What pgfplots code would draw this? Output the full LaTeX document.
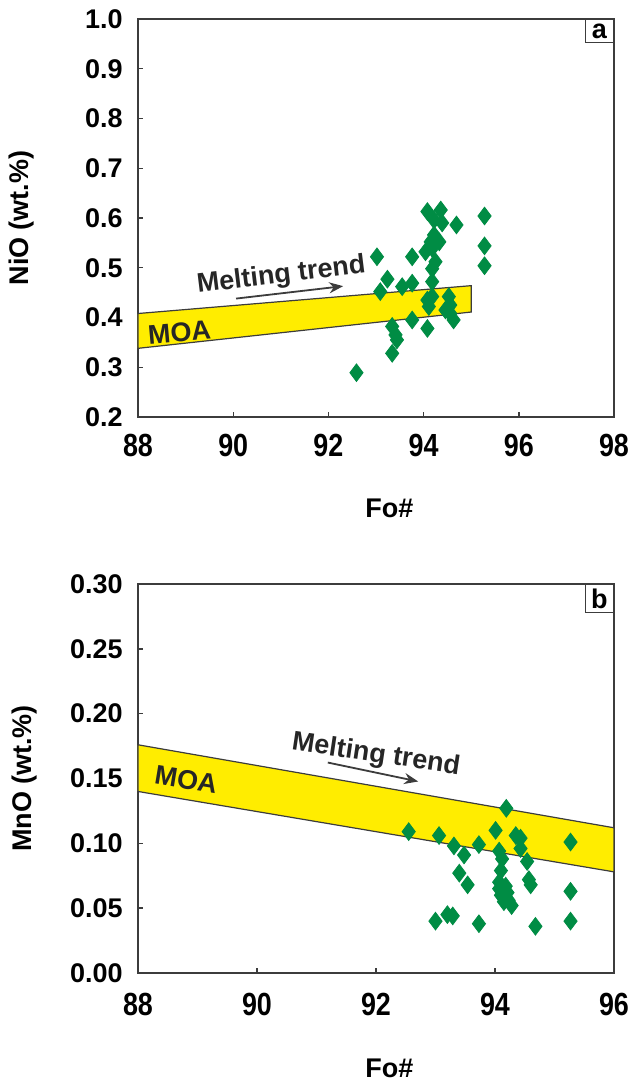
\documentclass[border=0pt]{standalone}
\usepackage{fontspec}
\setmainfont{Liberation Sans}
\usepackage{graphicx}
\usepackage{pgfplots}
\pgfplotsset{compat=1.18}
\usetikzlibrary{arrows.meta}
\definecolor{moa}{RGB}{255,237,0}
\definecolor{olv}{RGB}{0,140,68}
\definecolor{axc}{RGB}{60,60,60}
\pgfplotsset{
  myaxis/.style={
    anchor=south west, scale only axis, width=238pt,
    font=\fontsize{13.5}{16}\selectfont\bfseries,
    /pgf/number format/assume math mode=true,
    tick pos=left, tick align=inside, major tick length=2.5pt,
    axis line style={line width=0.7pt, draw=axc},
    tick style={line width=0.7pt, draw=axc},
    yticklabel style={inner sep=0pt, xshift=-7.5pt, /pgf/number format/.cd, fixed, fixed zerofill},
    xticklabel style={inner sep=0pt, font=\fontsize{16}{18}\selectfont\bfseries},
    xticklabel={\scalebox{0.84}[1]{\pgfmathprintnumber{\tick}}},
    clip mode=individual,
  },
  diam/.style={only marks, mark=diamond*, mark size=4.4pt, mark options={draw=olv, fill=olv}},
}
\begin{document}
\begin{tikzpicture}[x=1pt,y=1pt]
\useasboundingbox (0,0) rectangle (316.5,543.5);
% ---------------- panel a
\begin{axis}[myaxis, at={(69pt,335pt)}, height=199pt,
  xmin=88, xmax=98, ymin=0.2, ymax=1.0,
  xtick={88,90,92,94,96,98},
  ytick={0.2,0.3,0.4,0.5,0.6,0.7,0.8,0.9,1.0},
  yticklabel style={/pgf/number format/precision=1},
  xticklabel style={yshift=-8.5pt},
  xlabel={Fo\#}, xlabel style={at={(axis description cs:0.528,-0.2286)}, anchor=center},
  ylabel={NiO (wt.\%)}, ylabel style={at={(axis description cs:-0.2437,0.5)}, anchor=center},
]
\addplot[fill=moa, draw=axc, line width=0.6pt] coordinates {(88,0.338) (95,0.411) (95,0.464) (88,0.408)} -- cycle;
\draw[-{Stealth[length=7pt,width=5.5pt]}, line width=0.9pt, axc] (axis cs:90.06,0.438) -- (axis cs:92.31,0.463);
\node[rotate=7, text=black!85] at (axis cs:91.01,0.484) {Melting trend};
\node[rotate=5, text=black!85] at (axis cs:88.87,0.370) {MOA};
\addplot[diam] coordinates {
(92.59,0.289) (93.02,0.522) (93.24,0.477) (93.09,0.452) (93.34,0.382)
(93.41,0.365) (93.44,0.355) (93.34,0.328) (93.55,0.462) (93.76,0.469)
(93.76,0.522) (93.76,0.395) (94.08,0.378) (94.08,0.613) (94.36,0.616)
(94.39,0.590) (94.22,0.596) (94.69,0.586) (94.22,0.566) (94.15,0.552)
(94.33,0.552) (94.04,0.532) (94.18,0.539) (94.25,0.512) (94.18,0.498)
(94.18,0.472) (94.08,0.435) (94.18,0.442) (94.11,0.422) (94.53,0.442)
(94.56,0.425) (94.46,0.415) (94.56,0.408) (94.63,0.395) (95.28,0.604)
(95.28,0.544) (95.28,0.504)
};
\node[draw=axc, line width=0.7pt, anchor=north east, minimum width=14pt, minimum height=11.5pt, inner sep=1pt] at (rel axis cs:1,1) {a};
\end{axis}
% ---------------- panel b
\begin{axis}[myaxis, at={(69pt,57pt)}, height=194.5pt,
  xmin=88, xmax=96, ymin=0, ymax=0.30,
  xtick={88,90,92,94,96},
  ytick={0,0.05,0.10,0.15,0.20,0.25,0.30},
  yticklabel style={/pgf/number format/precision=2},
  xticklabel style={yshift=-10pt},
  xlabel={Fo\#}, xlabel style={at={(axis description cs:0.528,-0.2442)}, anchor=center},
  ylabel={MnO (wt.\%)}, ylabel style={at={(axis description cs:-0.2374,0.5)}, anchor=center},
]
\addplot[fill=moa, draw=axc, line width=0.6pt] coordinates {(88,0.140) (96,0.078) (96,0.112) (88,0.176)} -- cycle;
\draw[-{Stealth[length=7pt,width=5.5pt]}, line width=0.9pt, axc] (axis cs:91.19,0.1623) -- (axis cs:92.71,0.1477);
\node[rotate=-8.5, text=black!85] at (axis cs:92.0,0.168) {Melting trend};
\node[rotate=-9.5, text=black!85] at (axis cs:88.81,0.149) {MOA};
\addplot[diam] coordinates {
(92.55,0.109) (93.06,0.106) (93.31,0.098) (93.48,0.091) (93.40,0.077)
(93.54,0.068) (93.00,0.040) (93.20,0.045) (93.29,0.044) (93.73,0.099)
(93.73,0.038) (94.01,0.110) (94.19,0.127) (94.07,0.094) (94.12,0.088)
(94.10,0.079) (94.07,0.070) (94.07,0.065) (94.10,0.060) (94.18,0.067)
(94.21,0.062) (94.23,0.056) (94.28,0.052) (94.15,0.055) (94.35,0.106)
(94.43,0.104) (94.43,0.096) (94.54,0.086) (94.57,0.072) (94.60,0.068)
(94.68,0.036) (95.27,0.101) (95.27,0.063) (95.27,0.040)
};
\node[draw=axc, line width=0.7pt, anchor=north east, minimum width=14pt, minimum height=14pt, inner sep=1pt] at (rel axis cs:1,1) {b};
\end{axis}
\end{tikzpicture}
\end{document}
